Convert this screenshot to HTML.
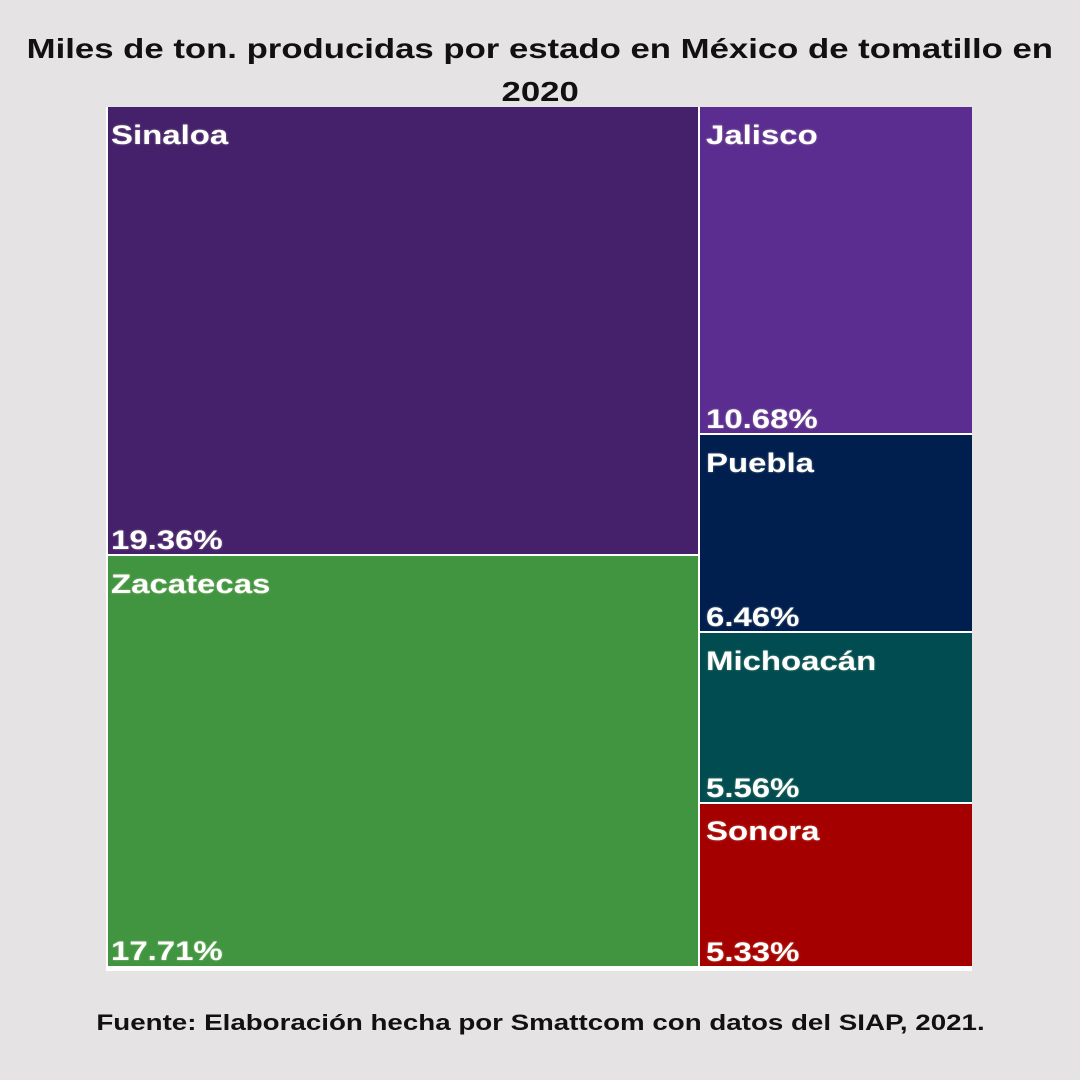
<!DOCTYPE html>
<html><head><style>
body{margin:0;width:1080px;height:1080px;background:#e5e3e3;position:relative;overflow:hidden;font-family:"Liberation Sans",sans-serif}
.t{position:absolute;left:0;width:1080px;text-align:center;font-weight:bold;color:#111}
.t span{display:inline-block}
.r{position:absolute}
.l{position:absolute;left:3px;color:#fff;font-weight:bold;font-size:27px;transform:scaleX(1.22);transform-origin:left top;white-space:nowrap;line-height:1;text-shadow:0 0 2px rgba(255,255,200,.4)}
</style></head><body>
<div class="t" style="top:27px;font-size:28px;line-height:43px"><span style="transform:scaleX(1.24)">Miles de ton. producidas por estado en México de tomatillo en</span><br><span style="transform:scaleX(1.24)">2020</span></div>
<div class="r" style="left:106px;top:107px;width:866px;height:864px;background:#fff"></div>
<div class="r" style="left:108px;top:107px;width:590px;height:447px;background:#45216b"><div class="l" style="top:15px">Sinaloa</div><div class="l" style="top:420px">19.36%</div></div>
<div class="r" style="left:108px;top:556px;width:590px;height:410px;background:#419541"><div class="l" style="top:15px">Zacatecas</div><div class="l" style="top:382px">17.71%</div></div>
<div class="r" style="left:700px;top:107px;width:272px;height:326px;background:#5c2d90"><div class="l" style="top:15px;left:6px">Jalisco</div><div class="l" style="top:299px;left:6px">10.68%</div></div>
<div class="r" style="left:700px;top:435px;width:272px;height:196px;background:#001f4f"><div class="l" style="top:15px;left:6px">Puebla</div><div class="l" style="top:169px;left:6px">6.46%</div></div>
<div class="r" style="left:700px;top:633px;width:272px;height:169px;background:#004c50"><div class="l" style="top:15px;left:6px">Michoacán</div><div class="l" style="top:142px;left:6px">5.56%</div></div>
<div class="r" style="left:700px;top:804px;width:272px;height:162px;background:#a50000"><div class="l" style="top:14px;left:6px">Sonora</div><div class="l" style="top:135px;left:6px">5.33%</div></div>
<div class="t" style="top:1010px;font-size:22px"><span style="transform:scaleX(1.26)">Fuente: Elaboración hecha por Smattcom con datos del SIAP, 2021.</span></div>
</body></html>
